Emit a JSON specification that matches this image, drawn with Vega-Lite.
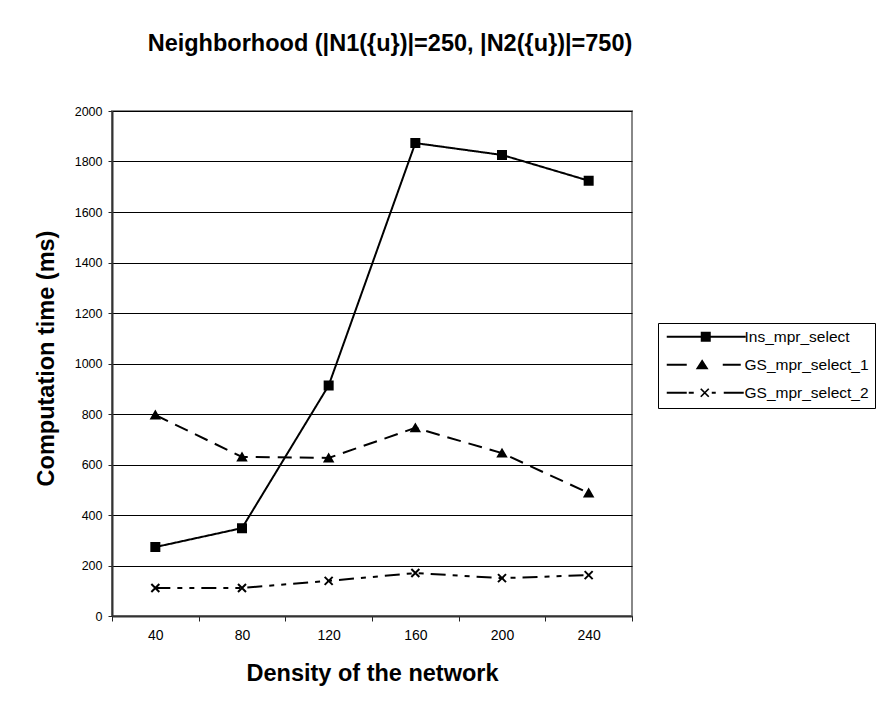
{
  "$schema": "https://vega.github.io/schema/vega-lite/v6.json",
  "width": 520,
  "height": 505,
  "autosize": {"type": "none"},
  "padding": {"left": 112, "top": 111, "right": 251, "bottom": 94},
  "background": "white",
  "config": {
    "font": "Liberation Sans",
    "view": {"stroke": "#888888", "strokeWidth": 2},
    "axis": {"labelFont": "Liberation Sans", "titleFont": "Liberation Sans"}
  },
  "title": {
    "text": "Neighborhood (|N1({u})|=250, |N2({u})|=750)",
    "font": "Liberation Sans",
    "fontSize": 23.5,
    "fontWeight": "bold",
    "color": "#000000",
    "anchor": "middle",
    "frame": "group",
    "baseline": "alphabetic",
    "dx": 18,
    "offset": 31
  },
  "data": {
    "values": [
      {"density": 40, "series": "Ins_mpr_select", "time": 273},
      {"density": 80, "series": "Ins_mpr_select", "time": 348},
      {"density": 120, "series": "Ins_mpr_select", "time": 913},
      {"density": 160, "series": "Ins_mpr_select", "time": 1873},
      {"density": 200, "series": "Ins_mpr_select", "time": 1826},
      {"density": 240, "series": "Ins_mpr_select", "time": 1724},
      {"density": 40, "series": "GS_mpr_select_1", "time": 796},
      {"density": 80, "series": "GS_mpr_select_1", "time": 630},
      {"density": 120, "series": "GS_mpr_select_1", "time": 626},
      {"density": 160, "series": "GS_mpr_select_1", "time": 745},
      {"density": 200, "series": "GS_mpr_select_1", "time": 645},
      {"density": 240, "series": "GS_mpr_select_1", "time": 487},
      {"density": 40, "series": "GS_mpr_select_2", "time": 111},
      {"density": 80, "series": "GS_mpr_select_2", "time": 111},
      {"density": 120, "series": "GS_mpr_select_2", "time": 139},
      {"density": 160, "series": "GS_mpr_select_2", "time": 170},
      {"density": 200, "series": "GS_mpr_select_2", "time": 150},
      {"density": 240, "series": "GS_mpr_select_2", "time": 162}
    ]
  },
  "encoding": {
    "x": {
      "field": "density",
      "type": "ordinal",
      "sort": "ascending",
      "scale": {"paddingInner": 0, "paddingOuter": 0},
      "axis": {
        "title": "Density of the network",
        "titleFontSize": 23.5,
        "titleFontWeight": "bold",
        "titleColor": "#000000",
        "titleBaseline": "middle",
        "titleY": 57,
        "labelAngle": 0,
        "labelFontSize": 14,
        "labelColor": "#000000",
        "labelPadding": 7,
        "tickBand": "extent",
        "tickSize": 5,
        "tickColor": "#222222",
        "domainColor": "#333333",
        "domainWidth": 2,
        "grid": false
      }
    },
    "y": {
      "field": "time",
      "type": "quantitative",
      "scale": {"domain": [0, 2000], "nice": false},
      "axis": {
        "title": "Computation time (ms)",
        "titleFontSize": 23.5,
        "titleFontWeight": "bold",
        "titleColor": "#000000",
        "titleBaseline": "middle",
        "titleX": -66,
        "titleY": 247,
        "values": [0, 200, 400, 600, 800, 1000, 1200, 1400, 1600, 1800, 2000],
        "format": "d",
        "labelFontSize": 12.5,
        "labelColor": "#000000",
        "labelPadding": 6,
        "tickSize": 4,
        "tickColor": "#222222",
        "domainColor": "#333333",
        "domainWidth": 2,
        "grid": true,
        "gridColor": "#000000",
        "gridWidth": 1
      }
    }
  },
  "layer": [
    {
      "mark": {"type": "line", "color": "#000000", "strokeWidth": 2},
      "encoding": {
        "detail": {"field": "series"},
        "strokeDash": {
          "field": "series",
          "type": "nominal",
          "scale": {
            "domain": ["Ins_mpr_select", "GS_mpr_select_1", "GS_mpr_select_2"],
            "range": [[1, 0], [14, 8], [15, 7, 5, 7, 5, 7]]
          },
          "legend": null
        }
      }
    },
    {
      "mark": {"type": "point", "filled": true, "color": "#000000", "stroke": "#000000", "strokeWidth": 2, "size": 64, "opacity": 1},
      "encoding": {
        "shape": {
          "field": "series",
          "type": "nominal",
          "scale": {
            "domain": ["Ins_mpr_select", "GS_mpr_select_1", "GS_mpr_select_2"],
            "range": ["square", "triangle-up", "M-1,-1L1,1M-1,1L1,-1"]
          },
          "legend": null
        }
      }
    },
    {
      "mark": {"type": "point", "filled": true, "fill": "#000000", "opacity": 0},
      "encoding": {
        "shape": {
          "field": "series",
          "type": "nominal",
          "scale": {
            "domain": ["Ins_mpr_select", "GS_mpr_select_1", "GS_mpr_select_2"],
            "range": [
              "M-1.25,-0.25H18.5V0.25H-1.25Z M7.25,-1.25H9.75V1.25H7.25Z",
              "M-1.25,-0.25H3.75V0.25H-1.25Z M12.75,-0.25H17.25V0.25H12.75Z M7.6,-1.4L9.2,1.1L6,1.1Z",
              "M-1.25,-0.25H3.75V0.25H-1.25Z M4.25,-0.25H5.5V0.25H4.25Z M7.1,-0.85L7.4,-1.15L9.4,0.85L9.1,1.15Z M7.1,0.85L9.1,-1.15L9.4,-0.85L7.4,1.15Z M10,-0.25H11V0.25H10Z M13,-0.25H18V0.25H13Z"
            ]
          },
          "legend": {
            "title": null,
            "orient": "none",
            "legendX": 546,
            "legendY": 212,
            "padding": 6,
            "strokeColor": "#000000",
            "fillColor": "#ffffff",
            "symbolSize": 64,
            "symbolOpacity": 1,
            "symbolFillColor": "#000000",
            "symbolStrokeWidth": 0,
            "labelOffset": 65,
            "labelFontSize": 15.5,
            "labelFont": "Liberation Sans",
            "labelColor": "#000000",
            "rowPadding": 11
          }
        }
      }
    }
  ],
  "resolve": {"scale": {"shape": "independent"}, "legend": {"shape": "independent"}}
}
